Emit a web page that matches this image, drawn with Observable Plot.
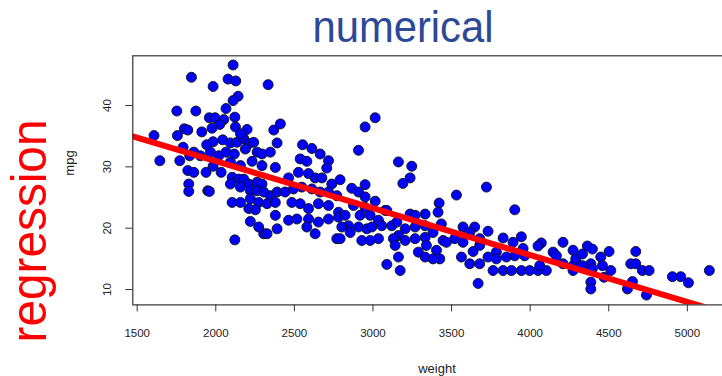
<!DOCTYPE html>
<html><head><meta charset="utf-8">
<script src="https://cdn.jsdelivr.net/npm/d3@7"></script>
<script src="https://cdn.jsdelivr.net/npm/@observablehq/plot@0.6"></script>
<style>html,body{margin:0;padding:0;background:#fff;} #chart{width:722px;height:376px;overflow:hidden;}</style>
</head><body><div id="chart"></div>
<script>
// Auto data: weight (lbs) vs mpg
const weight = [
2110,1845,2078,2127,1983,2333,2142,2110,2065,1752,1873,1959,1995,2121,2051,2025,1976,2125,2199,2369,2411,1800,1822,1756,1607,1911,2044,1983,1942,2093,2135,2178,2212,2241,2157,1792,1860,1902,1966,2019,2065,2118,2188,2263,2294,2347,2390,1644,1771,1834,1822,1860,1938,1983,2034,2093,2157,2231,2294,2379,1828,1828,1949,1959,2104,2146,2178,2210,2263,2294,2093,2157,2220,2263,2305,2347,2390,2104,2157,2220,2273,2326,2379,2210,2252,2379,2220,2273,2305,2326,2390,2121,
2552,2611,2664,2717,2706,2537,2579,2463,2526,2590,2632,2675,2738,2791,2441,2494,2547,2611,2664,2717,2770,2484,2537,2590,2653,2717,2781,2463,2516,2590,2653,2717,2579,2632,2781,2823,2844,2802,2770,2791,2865,2908,2950,2950,3014,3077,2876,2950,2918,2982,3035,2855,2908,2961,2993,2929,2982,3035,3056,3120,3152,3088,3014,2950,2908,3162,3247,3236,3190,3236,3268,3332,3205,3268,3162,3130,3205,3141,3268,3332,3289,3332,3162,3088,3173,3332,
3722,3531,3902,3421,3414,3435,3382,3446,3467,3520,3573,3647,3616,3732,3828,3891,3944,3955,4071,4050,4209,4273,4146,3340,3404,3425,3563,3616,3679,3637,3679,3732,3785,3785,3849,3902,3965,3764,3828,3881,3944,3997,4050,4103,4061,4167,4209,4273,4273,3669,3382,3573,3679,
4290,4333,4364,4396,4449,4502,4333,4386,4396,4460,4513,4470,4386,4386,4640,4672,4672,4714,4757,4651,4619,4740,4905,4958,5007,5140
];
const mpg = [
46.6,44.6,44.3,44.0,43.1,43.4,41.5,40.8,39.5,39.1,39.1,38.0,38.0,38.1,37.7,36.9,36.3,36.5,36.1,36.0,37.0,36.2,36.0,35.1,35.1,35.7,34.4,34.1,33.6,33.9,34.0,34.6,33.8,34.0,35.4,33.2,32.4,31.8,32.4,31.8,32.4,32.1,32.9,32.4,32.1,32.4,33.9,31.0,31.0,31.8,29.4,29.1,29.1,30.1,29.1,30.8,30.2,30.9,30.2,29.9,27.2,26.0,26.1,26.0,28.3,28.0,28.0,27.2,27.5,27.2,27.2,26.7,26.1,26.1,25.9,25.3,25.9,24.2,24.2,24.8,24.2,24.0,24.2,23.2,23.0,22.1,21.1,20.2,19.1,19.1,19.9,18.1,
33.6,33.0,32.1,31.0,29.8,31.3,30.9,28.2,29.1,28.9,28.2,28.2,27.2,27.9,25.9,26.4,26.7,26.4,25.9,25.9,25.3,24.2,24.0,23.2,24.0,23.7,22.6,21.3,21.5,21.5,21.0,21.5,20.2,19.1,21.8,22.1,20.4,20.2,18.3,18.3,26.5,25.9,27.1,25.1,24.4,22.9,23.7,23.4,22.1,22.1,21.3,19.3,20.2,19.9,20.2,18.0,18.0,18.3,20.4,20.4,21.0,22.9,38.0,36.5,32.7,30.8,30.1,28.2,27.3,22.3,22.1,22.3,19.9,20.2,18.8,18.3,18.0,17.2,18.3,18.5,16.1,15.3,15.3,14.1,13.1,20.4,
26.7,25.4,23.0,24.1,22.6,20.7,19.3,18.0,17.7,18.3,20.2,20.2,19.3,19.5,18.4,17.7,18.6,16.7,17.6,17.1,17.7,16.4,16.1,17.2,16.4,15.0,15.3,14.2,14.2,16.2,17.2,15.3,16.1,15.0,15.3,15.5,15.5,13.1,13.1,13.1,13.1,13.1,13.1,13.1,13.9,15.5,14.2,13.9,13.1,11.0,15.0,17.7,18.3,
15.0,15.8,17.1,16.6,15.3,16.2,13.9,14.2,13.4,13.9,13.1,12.0,11.2,10.1,14.2,14.2,16.2,13.1,13.1,11.3,10.1,9.1,12.1,12.1,11.1,13.1
];
const xTicks = [1500, 2000, 2500, 3000, 3500, 4000, 4500, 5000];
const yTicks = [10, 20, 30, 40];
const xDomain = [1472, 5281];
const yDomain = [7.5, 48.1];
// least-squares line mpg ~ weight
const intercept = 46.2165;
const slope = -0.007647;

const data = weight.map((w, i) => ({weight: w, mpg: mpg[i]}));
const fit = xDomain.map(w => ({weight: w, mpg: intercept + slope * w}));

const FONT = '"Liberation Sans", Arial, Helvetica, sans-serif';

const chart = Plot.plot({
  width: 722, height: 376,
  marginLeft: 132.3, marginRight: -9, marginTop: 55.3, marginBottom: 71.6,
  x: {domain: xDomain},
  y: {domain: yDomain},
  style: {fontFamily: FONT, fontSize: "11.5px", color: "#222", background: "#fff"},
  marks: [
    Plot.dot(data, {x: "weight", y: "mpg", r: 5, fill: "#0000FF", stroke: "#111", strokeWidth: 0.9}),
    Plot.line(fit, {x: "weight", y: "mpg", stroke: "#FF0000", strokeWidth: 6, clip: true}),
    Plot.frame({stroke: "#333", strokeWidth: 1.2}),
    Plot.axisX(xTicks, {tickSize: 7, tickPadding: 17, tickFormat: d3.format("d"), label: null, stroke: "#333"}),
    Plot.axisY(yTicks, {tickSize: 7, tickPadding: 15, tickRotate: -90, tickFormat: d3.format("d"), label: null, stroke: "#333"})
  ]
});

const svg = d3.select(chart);
svg.append("text").text("numerical")
  .attr("x", 403).attr("y", 42).attr("text-anchor", "middle")
  .attr("font-family", FONT).attr("font-size", 44).attr("fill", "#2C4896")
  .attr("textLength", 181).attr("lengthAdjust", "spacingAndGlyphs");
svg.append("text").text("regression")
  .attr("transform", "translate(46,231) rotate(-90)").attr("text-anchor", "middle")
  .attr("font-family", FONT).attr("font-size", 50).attr("fill", "#FF0000")
  .attr("textLength", 223).attr("lengthAdjust", "spacingAndGlyphs");
svg.append("text").text("mpg")
  .attr("transform", "translate(74,163) rotate(-90)").attr("text-anchor", "middle")
  .attr("font-family", FONT).attr("font-size", 13).attr("fill", "#222");
svg.append("text").text("weight")
  .attr("x", 437).attr("y", 372.5).attr("text-anchor", "middle")
  .attr("font-family", FONT).attr("font-size", 13).attr("fill", "#222");

document.getElementById("chart").append(chart);
</script>
</body></html>
